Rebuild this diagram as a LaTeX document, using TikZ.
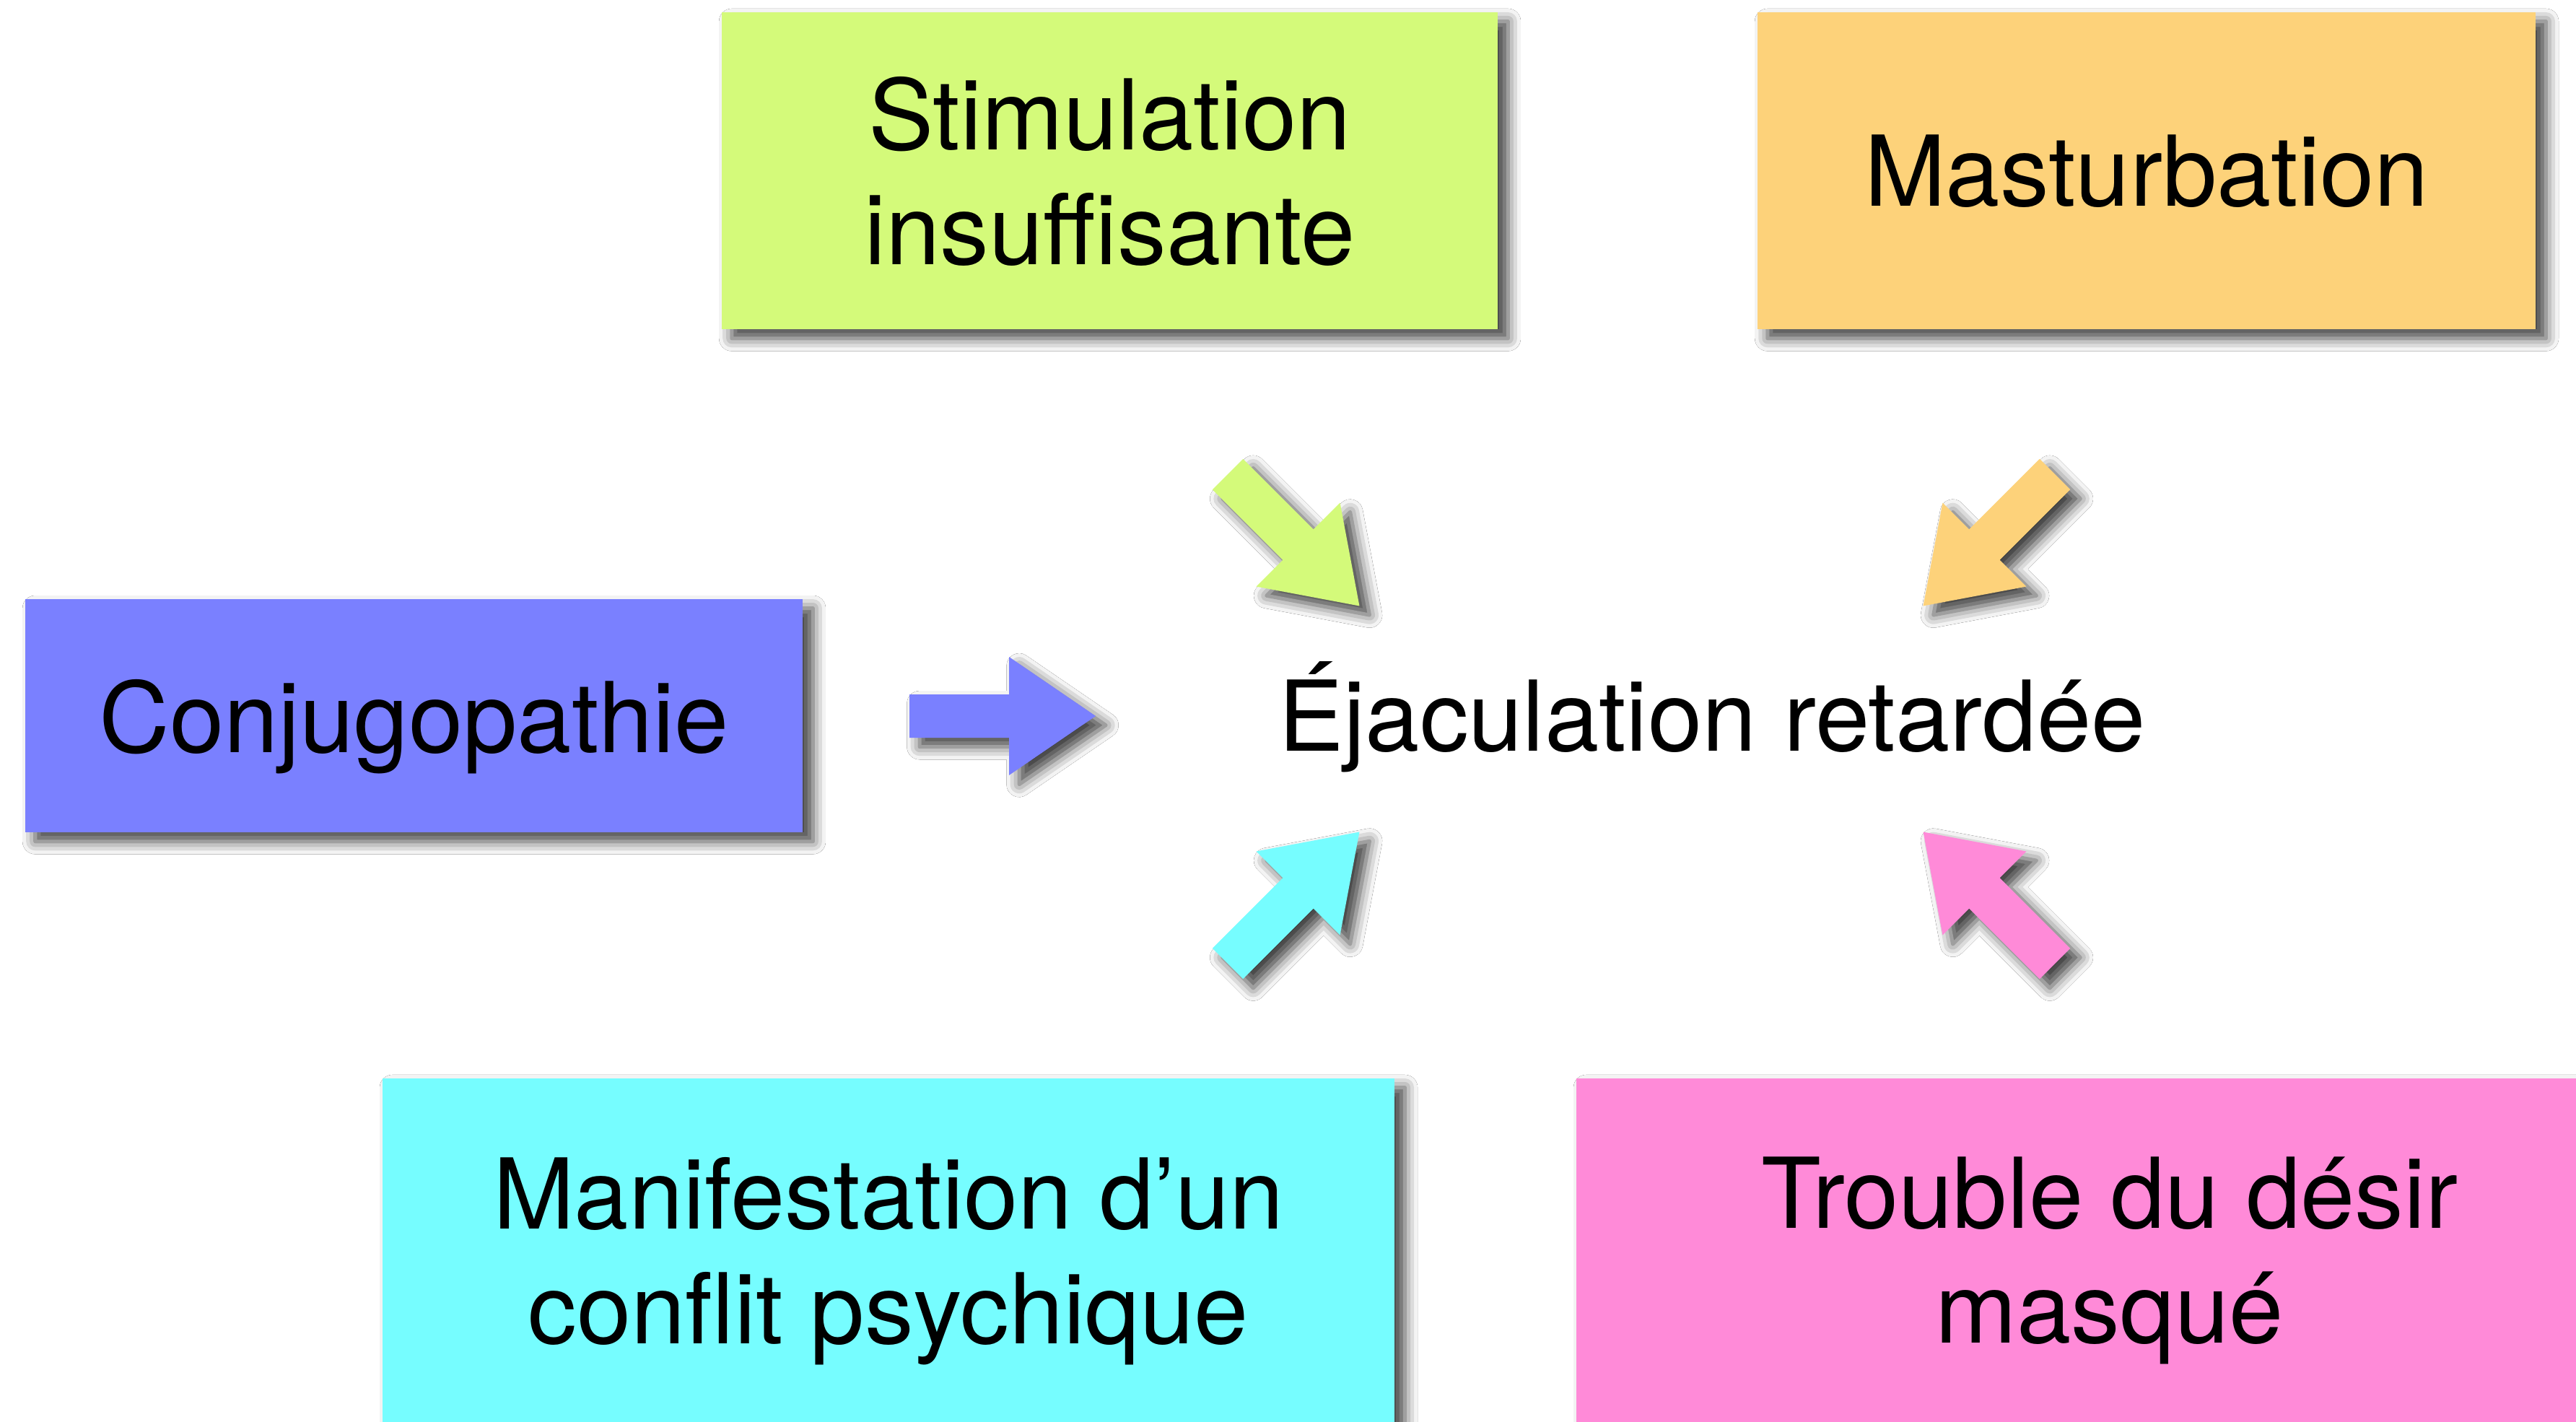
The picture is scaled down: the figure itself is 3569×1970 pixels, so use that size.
\documentclass[tikz,border=0pt]{standalone}
\usepackage{fontspec}
\setmainfont{TeX Gyre Heros}
\usetikzlibrary{shadows.blur}
\definecolor{cGreen}{RGB}{212,250,122}
\definecolor{cOrange}{RGB}{253,210,122}
\definecolor{cBlue}{RGB}{122,128,255}
\definecolor{cCyan}{RGB}{118,253,255}
\definecolor{cPink}{RGB}{255,138,216}
\tikzset{
  bshadow/.style={blur shadow={shadow xshift=4pt,shadow yshift=-3.6pt,shadow blur radius=5pt,shadow opacity=75}},
  bigtext/.style={font=\fontsize{38.5}{45.2}\selectfont},
  box/.style={rectangle, draw=none, inner sep=0pt, bshadow, bigtext, align=center, text depth=0pt},
  pics/fatarrow/.style 2 args={code={
    \fill[fill=#1, bshadow]
      ([rotate=#2]0,30) -- ([rotate=#2]138,30) -- ([rotate=#2]138,82) --
      ([rotate=#2]258,0) -- ([rotate=#2]138,-82) -- ([rotate=#2]138,-30) --
      ([rotate=#2]0,-30) -- cycle;
  }}
}
\begin{document}
\begin{tikzpicture}[x=0.01cm,y=-0.01cm]
\useasboundingbox (0,0) rectangle (3569,1970);
\clip (0,0) rectangle (3569,1970);
\fill[white] (0,0) rectangle (3569,1970);

% boxes
\node[box, fill=cGreen, minimum width=10.75cm, minimum height=4.39cm] (stim) at (1537.5,236.5) {Stimulation\\insuffisante};
\node[box, fill=cOrange, minimum width=10.78cm, minimum height=4.39cm] (mast) at (2974,236.5) {Masturbation};
\node[box, fill=cBlue, minimum width=10.77cm, minimum height=3.23cm] (conj) at (573.5,991.5) {Conjugopathie};
\node[box, fill=cCyan, minimum width=14.02cm, minimum height=4.76cm] (conf) at (1231,1732) {Manifestation d’un\\conflit psychique};
\node[box, fill=cPink, minimum width=14.78cm, minimum height=4.76cm] (desir) at (2923,1732) {Trouble du désir\\masqué};

% centre
\node[bigtext, inner sep=0pt, anchor=base] (ejac) at (2372,1040) {Éjaculation retardée};

% arrows
\pic (aG) at (1701,657) {fatarrow={cGreen}{-45}};
\pic (aO) at (2847,657) {fatarrow={cOrange}{-135}};
\pic (aB) at (1260,992) {fatarrow={cBlue}{0}};
\pic (aC) at (1701,1335) {fatarrow={cCyan}{45}};
\pic (aP) at (2847,1335) {fatarrow={cPink}{135}};
\end{tikzpicture}
\end{document}
